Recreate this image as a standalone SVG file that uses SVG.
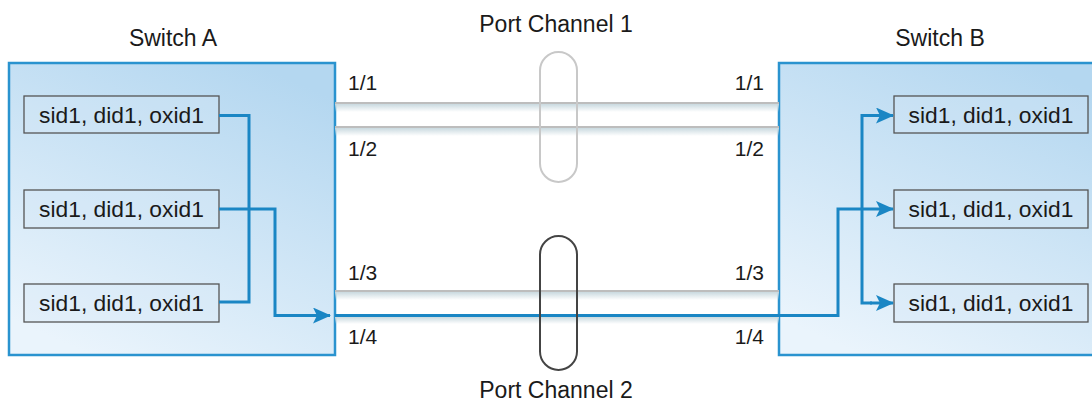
<svg xmlns="http://www.w3.org/2000/svg" width="1092" height="403" viewBox="0 0 1092 403">
<style>
  text { font-family: "Liberation Sans", Arial, sans-serif; fill: #1a1a1a; }
  .lbl { font-size: 23px; }
  .port { font-size: 21px; }
  .rec { font-size: 22.8px; text-anchor: middle; }
  .sw { stroke: #2a93cf; stroke-width: 2.5; fill: url(#swGrad); }
  .box { fill: #d6e9f7; fill-opacity: 0.35; stroke: #555; stroke-width: 1.3; }
  .flow { fill: none; stroke: #1a86c4; stroke-width: 3; }
  .link { stroke: #bdbdbd; stroke-width: 2; }
  .shadow { fill: url(#shGrad); }
</style>
<defs>
  <linearGradient id="swGrad" x1="0.75" y1="0" x2="0.25" y2="1">
    <stop offset="0" stop-color="#b4d7f0"/>
    <stop offset="1" stop-color="#eaf4fc"/>
  </linearGradient>
  <linearGradient id="shGrad" x1="0" y1="0" x2="0" y2="1">
    <stop offset="0" stop-color="#c9d9df"/>
    <stop offset="1" stop-color="#c9d9df" stop-opacity="0"/>
  </linearGradient>
  <marker id="arr" viewBox="0 0 18 16" refX="17" refY="8" markerWidth="18" markerHeight="16" markerUnits="userSpaceOnUse" orient="auto">
    <path d="M0,0 L18,8 L0,16 L4,8 Z" fill="#1a86c4"/>
  </marker>
</defs>

<g id="switch-a">
  <rect class="sw" x="9" y="63" width="326" height="292"/>
  <text class="lbl" x="173" y="46" text-anchor="middle">Switch A</text>
</g>
<g id="switch-b">
  <rect class="sw" x="779" y="63" width="330" height="292"/>
  <text class="lbl" x="940" y="46" text-anchor="middle">Switch B</text>
</g>

<g id="links">
  <rect class="shadow" x="335" y="104" width="444" height="8"/>
  <line class="link" x1="335" y1="103" x2="779" y2="103"/>
  <rect class="shadow" x="335" y="128" width="444" height="8"/>
  <line class="link" x1="335" y1="127" x2="779" y2="127"/>
  <rect class="shadow" x="335" y="292" width="444" height="8"/>
  <line class="link" x1="335" y1="291" x2="779" y2="291"/>
  <rect class="shadow" x="335" y="317" width="444" height="7"/>
</g>

<g id="port-labels">
  <text class="port" x="348" y="90">1/1</text>
  <text class="port" x="348" y="156">1/2</text>
  <text class="port" x="348" y="280">1/3</text>
  <text class="port" x="348" y="344">1/4</text>
  <text class="port" x="764" y="90" text-anchor="end">1/1</text>
  <text class="port" x="764" y="156" text-anchor="end">1/2</text>
  <text class="port" x="764" y="280" text-anchor="end">1/3</text>
  <text class="port" x="764" y="344" text-anchor="end">1/4</text>
</g>

<g id="a1"><rect class="box" x="24" y="96" width="195" height="37"/><text class="rec" x="121.5" y="122.5">sid1, did1, oxid1</text></g>
<g id="a2"><rect class="box" x="24" y="190" width="195" height="38"/><text class="rec" x="121.5" y="216.5">sid1, did1, oxid1</text></g>
<g id="a3"><rect class="box" x="24" y="284" width="195" height="38"/><text class="rec" x="121.5" y="310.5">sid1, did1, oxid1</text></g>
<g id="b1"><rect class="box" x="894" y="96" width="194" height="37"/><text class="rec" x="991" y="122.5">sid1, did1, oxid1</text></g>
<g id="b2"><rect class="box" x="894" y="190" width="194" height="38"/><text class="rec" x="991" y="216.5">sid1, did1, oxid1</text></g>
<g id="b3"><rect class="box" x="894" y="284" width="194" height="38"/><text class="rec" x="991" y="310.5">sid1, did1, oxid1</text></g>

<g id="connectors">
  <path class="flow" d="M219,115.5 H249 V302 H219"/>
  <path class="flow" d="M219,209 H275 V315.5 H330" marker-end="url(#arr)"/>
  <line class="flow" x1="335" y1="315.5" x2="779" y2="315.5"/>
  <path class="flow" d="M779,315.5 H838 V209 H893" marker-end="url(#arr)"/>
  <path class="flow" d="M872,115.5 H862 V303 H872"/>
  <line class="flow" x1="870" y1="115.5" x2="893" y2="115.5" marker-end="url(#arr)"/>
  <line class="flow" x1="870" y1="303" x2="893" y2="303" marker-end="url(#arr)"/>
</g>

<g id="port-channel-1">
  <rect x="540" y="52" width="37" height="130" rx="18.5" fill="none" stroke="#c8c8c8" stroke-width="2"/>
  <text class="lbl" x="556" y="32" text-anchor="middle">Port Channel 1</text>
</g>
<g id="port-channel-2">
  <rect x="540" y="236" width="37" height="134" rx="18.5" fill="none" stroke="#444" stroke-width="2"/>
  <text class="lbl" x="556" y="398" text-anchor="middle">Port Channel 2</text>
</g>
</svg>
